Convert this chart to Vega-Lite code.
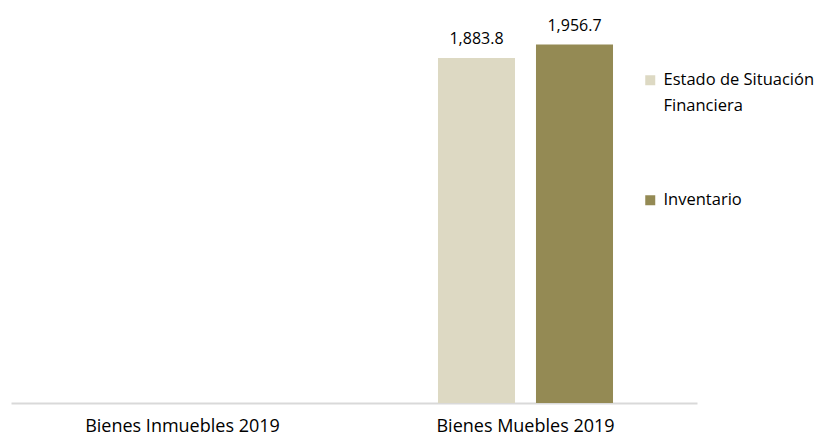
{
  "$schema": "https://vega.github.io/schema/vega-lite/v6.json",
  "width": 686,
  "height": 403,
  "autosize": {"type": "none"},
  "padding": {"left": 11, "top": 0, "right": 137, "bottom": 35},
  "background": "white",
  "config": {"view": {"stroke": null}, "font": "Open Sans"},
  "data": {
    "values": [
      {"categoria": "Bienes Muebles 2019", "serie": "Estado de Situación Financiera", "valor": 1883.8},
      {"categoria": "Bienes Muebles 2019", "serie": "Inventario", "valor": 1956.7}
    ]
  },
  "encoding": {
    "x": {
      "field": "categoria",
      "type": "nominal",
      "scale": {"domain": ["Bienes Inmuebles 2019", "Bienes Muebles 2019"], "paddingInner": 0, "paddingOuter": 0},
      "axis": {"title": null, "labelAngle": 0, "ticks": false, "domainColor": "#D9D9D9", "domainWidth": 2, "labelFontSize": 18, "labelLimit": 400, "labelColor": "#000000", "labelPadding": 14}
    },
    "xOffset": {
      "field": "serie",
      "type": "nominal",
      "sort": ["Estado de Situación Financiera", "Inventario"],
      "scale": {"paddingInner": 0.214, "paddingOuter": 0.857}
    },
    "y": {"field": "valor", "type": "quantitative", "scale": {"domain": [0, 2200]}, "axis": null}
  },
  "layer": [
    {
      "mark": {"type": "bar"},
      "encoding": {
        "color": {
          "field": "serie",
          "type": "nominal",
          "scale": {"domain": ["Estado de Situación Financiera", "Inventario"], "range": ["#DDD9C3", "#948A54"]},
          "legend": {
            "title": null,
            "orient": "none",
            "legendX": 631,
            "legendY": 72,
            "padding": 0,
            "symbolType": "square",
            "symbolSize": 100,
            "symbolStrokeWidth": 0,
            "labelFontSize": 16.5,
            "labelColor": "#000000",
            "labelOffset": 5,
            "labelLimit": 300,
            "rowPadding": 77,
            "labelExpr": "datum.label == 'Estado de Situación Financiera' ? ['Estado de Situación', 'Financiera'] : datum.label",
            "encode": {
              "labels": {
                "update": {
                  "lineHeight": {"value": 26}
                }
              }
            }
          }
        }
      }
    },
    {
      "mark": {"type": "text", "dy": -14, "baseline": "alphabetic", "fontSize": 16, "color": "#000000"},
      "encoding": {"text": {"field": "valor", "type": "quantitative", "format": ",.1f"}}
    }
  ]
}
